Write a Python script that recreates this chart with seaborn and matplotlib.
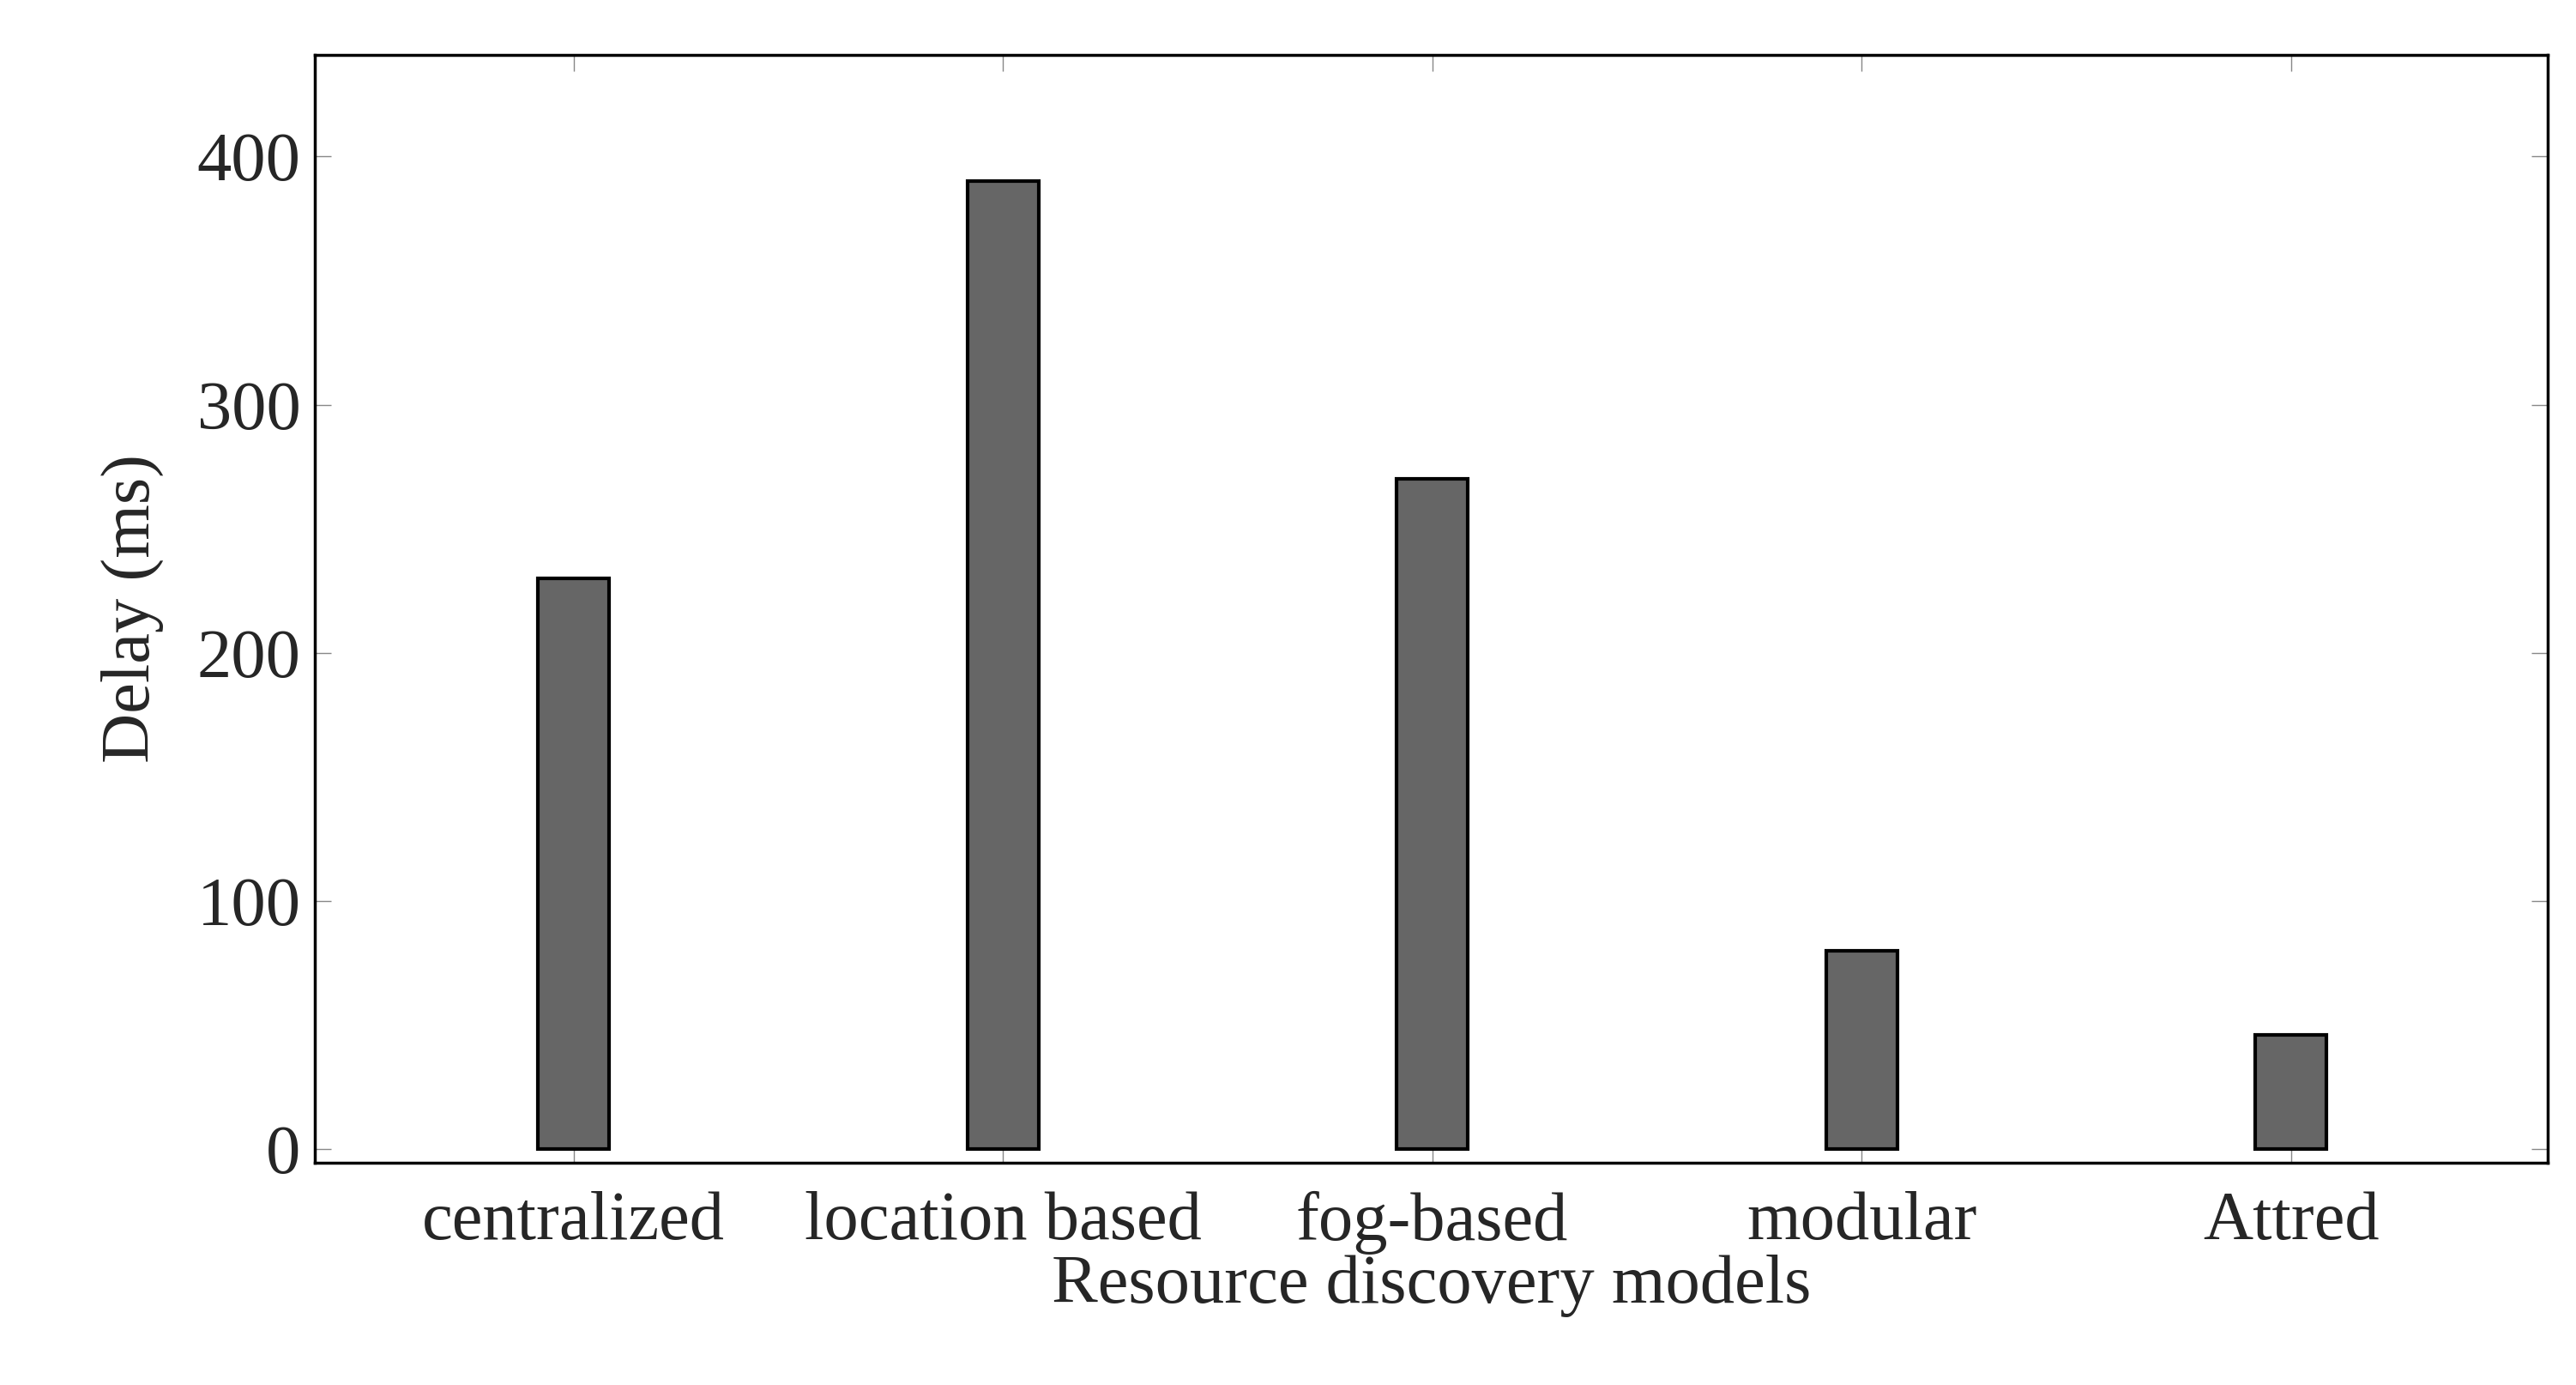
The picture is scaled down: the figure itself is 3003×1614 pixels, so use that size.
import matplotlib
matplotlib.use("Agg")
import matplotlib.pyplot as plt
import seaborn as sns
import pandas as pd

# data
models = ["centralized", "location based", "fog-based", "modular", "Attred"]
delays = [230, 390, 270, 80, 46]

sns.set_style("ticks")
plt.rcParams['font.family'] = ['Liberation Serif', 'DejaVu Serif']

df = pd.DataFrame({"model": models, "delay": delays})

fig = plt.figure(figsize=(30.03, 16.14), dpi=100)
ax = fig.add_axes([0.1223, 0.1605, 0.8667, 0.80])
sns.barplot(x="model", y="delay", data=df, color="#666666", width=0.166,
            edgecolor="black", linewidth=3, saturation=1, ax=ax)

ax.set_xlim(-0.602, 4.598)
ax.set_ylim(-5.4, 441)
ax.set_yticks([0, 100, 200, 300, 400])
ax.set_xlabel("Resource discovery models", fontsize=58, labelpad=0)
ax.set_ylabel("Delay (ms)", fontsize=58, labelpad=28)
ax.tick_params(axis="both", labelsize=58, direction="in", length=14, width=1,
               color="#888888", top=True, right=True)
ax.tick_params(axis="x", pad=24)
ax.tick_params(axis="y", pad=12)
for s in ax.spines.values():
    s.set_visible(True)
    s.set_linewidth(2.5)
    s.set_color("black")

fig.savefig("out.png", dpi=100)
